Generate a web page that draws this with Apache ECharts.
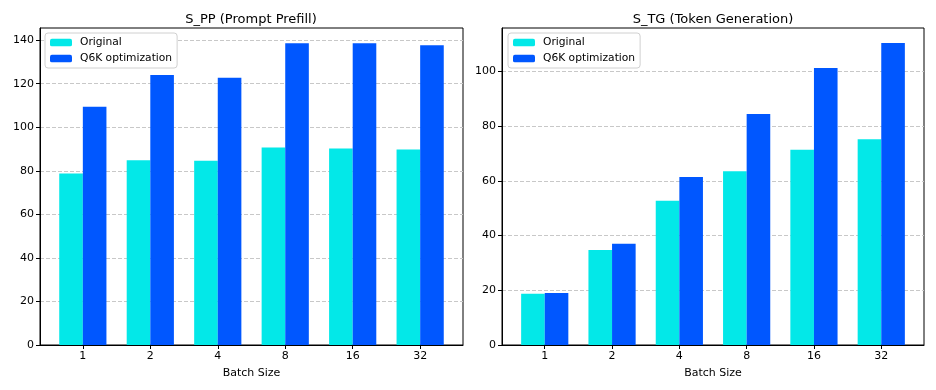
<!DOCTYPE html>
<html><head><meta charset="utf-8">
<script src="https://cdn.jsdelivr.net/npm/echarts@6/dist/echarts.min.js"></script>
<style>html,body{margin:0;padding:0;background:#fff}#c{width:936px;height:390px}</style>
</head><body><div id="c"></div>
<script>
const categories = ['1','2','4','8','16','32'];
const ppOriginal = [78.8, 84.9, 84.6, 90.7, 90.3, 89.8];
const ppQ6K = [109.4, 124.0, 122.7, 138.6, 138.6, 137.7];
const tgOriginal = [18.7, 34.7, 52.7, 63.5, 71.3, 75.2];
const tgQ6K = [19.0, 37.0, 61.4, 84.4, 101.2, 110.3];
const ppTicks = [0, 20, 40, 60, 80, 100, 120, 140];
const tgTicks = [0, 20, 40, 60, 80, 100];
const seriesNames = ['Original', 'Q6K optimization'];
const titles = ['S_PP (Prompt Prefill)', 'S_TG (Token Generation)'];

const FONT = 'DejaVu Sans';
const C1 = '#03e8e8', C2 = '#0057ff';
const idx = categories.map((c, i) => i);
const chart = echarts.init(document.getElementById('c'), null, {renderer: 'canvas'});

function xAx(g) {
  return {
    type: 'value', gridIndex: g, min: -0.635, max: 5.635,
    splitLine: {show: false},
    axisLine: {show: true, onZero: false, lineStyle: {color: '#000', width: 1}},
    axisTick: {show: true, length: 4, lineStyle: {color: '#000'}, customValues: idx},
    axisLabel: {show: true, customValues: idx, color: '#000', fontFamily: FONT, fontSize: 11, margin: 6,
      formatter: v => categories[Math.round(v)]},
    name: 'Batch Size', nameLocation: 'middle', nameGap: 23,
    nameTextStyle: {color: '#000', fontFamily: FONT, fontSize: 11}
  };
}
function yAx(g, max, ticks) {
  return {
    type: 'value', gridIndex: g, min: 0, max: max,
    axisLine: {show: true, onZero: false, lineStyle: {color: '#000', width: 1}},
    axisTick: {show: true, length: 4, lineStyle: {color: '#000'}, customValues: ticks},
    axisLabel: {show: true, customValues: ticks, color: '#000', fontFamily: FONT, fontSize: 11, margin: 6},
    splitLine: {show: true, lineStyle: {color: '#c8c8c8', type: [4, 2], width: 1}}
  };
}
function bar(name, g, vals, color) {
  return {
    name: name, type: 'bar', xAxisIndex: g, yAxisIndex: g,
    data: vals.map((v, i) => [i, v]),
    barWidth: 23.6, barGap: '0%',
    itemStyle: {color: color},
    emphasis: {disabled: true}
  };
}
const legendCommon = {data: seriesNames, orient: 'vertical', top: 33, itemWidth: 22, itemHeight: 7.5, itemGap: 5,
  backgroundColor: '#fff', borderColor: '#d0d0d0', borderWidth: 1, borderRadius: 3, padding: [4, 5, 4, 5],
  textStyle: {fontFamily: FONT, fontSize: 10.7, color: '#000', padding: [0, 0, 0, 3]}};
chart.setOption({
  animation: false,
  backgroundColor: '#fff',
  title: [
    {text: titles[0], left: 246, top: 8, textAlign: 'center', textStyle: {fontFamily: FONT, fontSize: 13, fontWeight: 'normal', color: '#000'}},
    {text: titles[1], left: 708, top: 8, textAlign: 'center', textStyle: {fontFamily: FONT, fontSize: 13, fontWeight: 'normal', color: '#000'}}
  ],
  grid: [
    {left: 40, right: 473, top: 28, bottom: 45, show: true, borderColor: '#000', borderWidth: 1, backgroundColor: 'transparent'},
    {left: 502, right: 12, top: 28, bottom: 45, show: true, borderColor: '#000', borderWidth: 1, backgroundColor: 'transparent'}
  ],
  legend: [
    Object.assign({left: 45}, legendCommon),
    Object.assign({left: 508}, legendCommon)
  ],
  xAxis: [xAx(0), xAx(1)],
  yAxis: [yAx(0, 145.6, ppTicks), yAx(1, 115.8, tgTicks)],
  series: [
    bar(seriesNames[0], 0, ppOriginal, C1),
    bar(seriesNames[1], 0, ppQ6K, C2),
    bar(seriesNames[0], 1, tgOriginal, C1),
    bar(seriesNames[1], 1, tgQ6K, C2)
  ]
});
</script></body></html>
